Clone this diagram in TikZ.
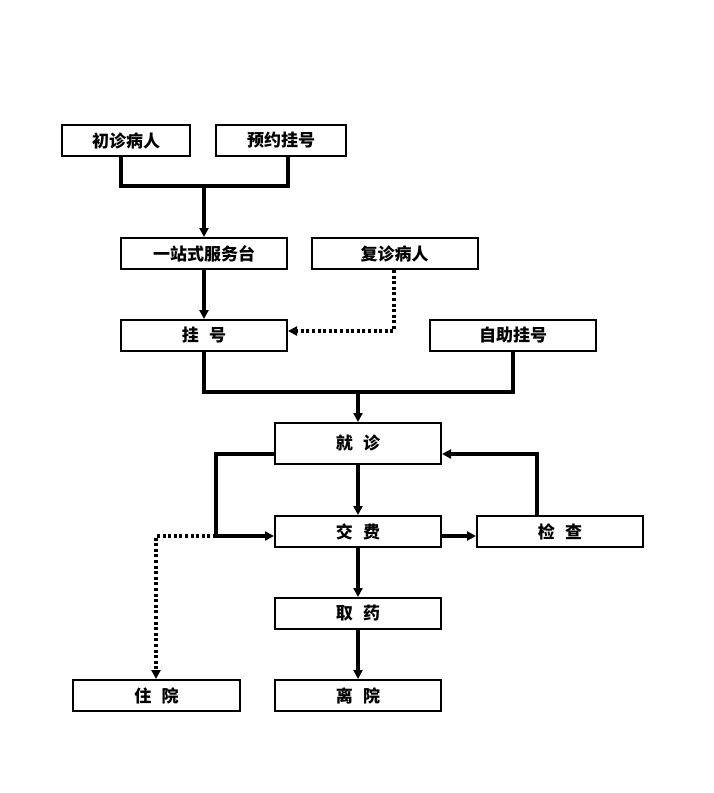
\documentclass[tikz,border=0pt]{standalone}
\usepackage{fontspec}
\newfontfamily\cjk{Noto Sans CJK SC}
\usetikzlibrary{arrows.meta}
\newcommand{\gp}{\hspace{0.6em}}
\begin{document}
\begin{tikzpicture}[x=1pt,y=-1pt,
  box/.style={draw, line width=2pt, minimum width=166pt, minimum height=31pt, inner sep=0pt, font=\cjk\bfseries\fontsize{17}{17}\selectfont},
  conn/.style={line width=3.2pt},
  arr/.style={conn, -{Triangle[length=9pt,width=9pt]}},
  dotarr/.style={line width=3.2pt, dash pattern=on 3pt off 2.6pt, -{Triangle[length=9pt,width=9pt]}}]
\useasboundingbox[fill=white] (0,0) rectangle (714,793);
% boxes
\node[box, minimum width=128pt] (a) at (126,140.5) {初诊病人};
\node[box, minimum width=130pt] (b) at (281,140.5) {预约挂号};
\node[box] (c) at (204,253.5) {一站式服务台};
\node[box] (d) at (394.5,253.5) {复诊病人};
\node[box] (e) at (204,335.5) {挂\gp 号};
\node[box] (f) at (513,335.5) {自助挂号};
\node[box, minimum height=41pt] (g) at (358,443.5) {就\gp 诊};
\node[box] (h) at (358,531.5) {交\gp 费};
\node[box] (m) at (560,531.5) {检\gp 查};
\node[box] (n) at (358,613.5) {取\gp 药};
\node[box, minimum width=167pt] (i) at (156.5,695.5) {住\gp 院};
\node[box] (o) at (358,695.5) {离\gp 院};
% coordinates
\coordinate (c1) at (121,186);
\coordinate (c2) at (288,186);
\coordinate (j1) at (204,186);
\coordinate (d1) at (394,331);
\coordinate (j2) at (358,392);
\coordinate (k1) at (216,454);
\coordinate (k2) at (216,536);
\coordinate (k3) at (156,536);
\coordinate (k4) at (537,454);
% connectors
\draw[conn] (c1 |- a.south) -- (c1) -- (c2) -- (c2 |- b.south);
\draw[arr] (j1) -- (c.north);
\draw[arr] (c.south) -- (e.north);
\draw[dotarr] (d1 |- d.south) -- (d1) -- (e.east |- d1);
\draw[conn] (e.south) -- (e.south |- j2) -- (f.south |- j2) -- (f.south);
\draw[arr] (j2) -- (g.north);
\draw[arr] (g.west |- k1) -- (k1) -- (k2) -- (h.west |- k2);
\draw[dotarr] (k2) -- (k3) -- (k3 |- i.north);
\draw[arr] (g.south) -- (h.north);
\draw[arr] (h.east |- k2) -- (m.west |- k2);
\draw[arr] (k4 |- m.north) -- (k4) -- (g.east |- k4);
\draw[arr] (h.south) -- (n.north);
\draw[arr] (n.south) -- (o.north);
\end{tikzpicture}
\end{document}
